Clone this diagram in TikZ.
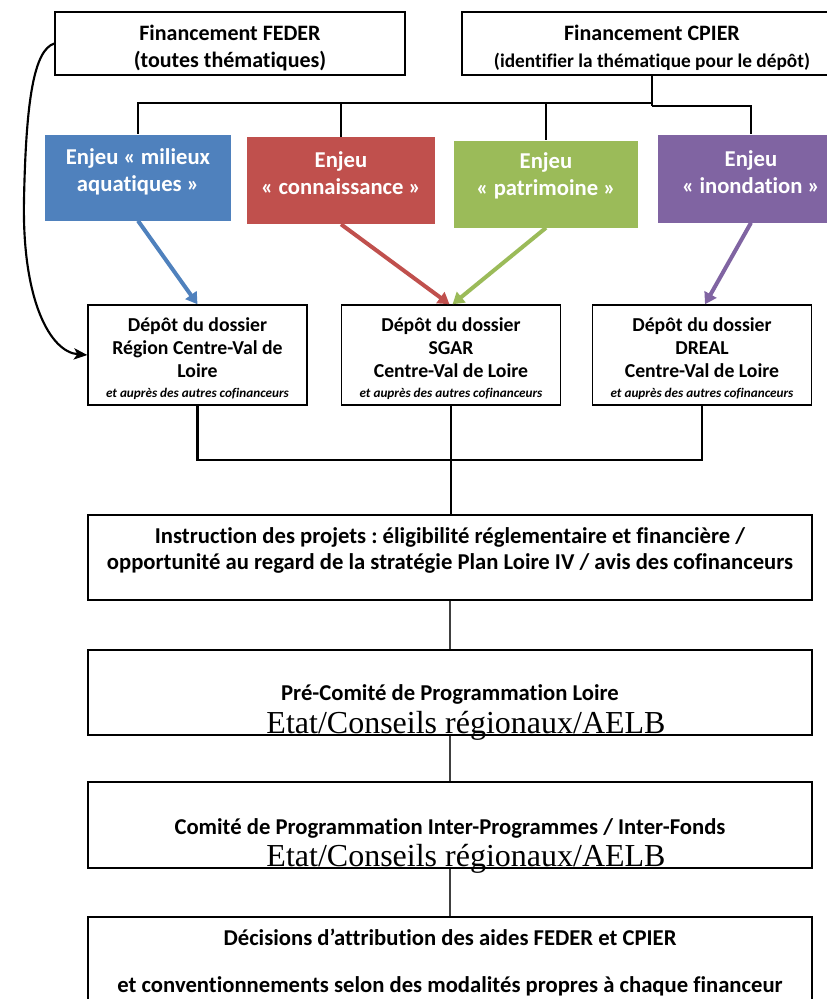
\documentclass[tikz,border=0pt]{standalone}
\usepackage{fontspec}
\setmainfont{Carlito}[Ligatures=NoCommon]
\newfontfamily\serifx{Liberation Serif}
\usetikzlibrary{arrows.meta,calc}
\definecolor{eblue}{HTML}{4F81BD}
\definecolor{ered}{HTML}{C0504D}
\definecolor{egreen}{HTML}{9BBB59}
\definecolor{epurple}{HTML}{8064A2}
\newcommand{\cofin}{{\bfseries\itshape\fontsize{9.9}{12}\selectfont et auprès des autres cofinanceurs}}
\frenchspacing
\begin{document}
\begin{tikzpicture}[x=0.75pt,y=-0.75pt,
  wbox/.style={draw=black, line width=1.1pt, fill=white, inner sep=0pt},
  wtext/.style={inner sep=0pt, align=center, font=\bfseries\fontsize{16.5}{20.25}\selectfont},
  ebox/.style={inner sep=0pt},
  etext/.style={inner sep=0pt, align=center, text=white, font=\bfseries\fontsize{17}{20.25}\selectfont},
  dbox/.style={draw=black, line width=1.1pt, fill=white, inner sep=0pt,
    minimum height=100*0.75pt, minimum width=219*0.75pt},
  dtext/.style={inner sep=0pt, align=center, font=\bfseries\fontsize{14.8}{17.2}\selectfont},
  bigbox/.style={draw=black, line width=1.1pt, inner sep=0pt, minimum width=724*0.75pt},
  btext/.style={inner sep=0pt, align=center, font=\bfseries\fontsize{17}{19.5}\selectfont},
  sertext/.style={inner sep=0pt, anchor=base, font=\serifx\fontsize{24}{28}\selectfont},
  thinline/.style={draw=black, line width=0.8pt},
  thickline/.style={draw=black, line width=2.2pt},
  midline/.style={draw=black!75, line width=1.5pt},
  carrow/.style={line width=3pt, -{Triangle[length=8.5pt,width=10pt]}},
]
\useasboundingbox (0,0) rectangle (827,999);

% top boxes
\node[wbox, minimum width=350*0.75pt, minimum height=63*0.75pt] (feder) at (230,43.5) {};
\node[wtext] (federt) at (230,48) {Financement FEDER\\(toutes thématiques)};
\node[wbox, minimum width=380*0.75pt, minimum height=63*0.75pt] (cpier) at (652,43.5) {};
\node[wtext] (cpiert) at (652,48)
  {Financement CPIER\\{\fontsize{14.5}{20.25}\selectfont(identifier la thématique pour le dépôt)}};

% enjeu boxes
\node[ebox, fill=eblue, minimum width=186*0.75pt, minimum height=86*0.75pt] (e1) at (138,177.5) {};
\node[etext] (e1t) at (138,172) {Enjeu « milieux\\aquatiques »};
\node[ebox, fill=ered, minimum width=188*0.75pt, minimum height=87*0.75pt] (e2) at (341,180.5) {};
\node[etext] (e2t) at (341,173) {Enjeu\\« connaissance »};
\node[ebox, fill=egreen, minimum width=184*0.75pt, minimum height=87*0.75pt] (e3) at (546,184) {};
\node[etext] (e3t) at (546,176) {Enjeu\\« patrimoine »};
\node[ebox, fill=epurple, minimum width=186*0.75pt, minimum height=88*0.75pt] (e4) at (751,178.5) {};
\node[etext] (e4t) at (751,172) {Enjeu\\« inondation »};

% top connectors
\coordinate (hub) at (652,103);
\coordinate (hubr) at (652,106);
\draw[thinline] (cpier.south) -- (hubr);
\draw[thinline] (hub) -| (e1.north);
\draw[thinline] (hub) -| (e2.north);
\draw[thinline] (hub) -| (e3.north);
\draw[thinline] (hubr) -| (e4.north);

% depot boxes
\node[dbox] (d1) at (197.5,355) {};
\node[dtext] (d1t) at (197.5,358.5)
  {Dépôt du dossier\\Région Centre-Val de\\Loire\\[-2.5pt]\cofin};
\node[dbox] (d2) at (451,355) {};
\node[dtext] (d2t) at (451,358.5)
  {Dépôt du dossier\\SGAR\\Centre-Val de Loire\\[-2.5pt]\cofin};
\node[dbox] (d3) at (702,355) {};
\node[dtext] (d3t) at (702,358.5)
  {Dépôt du dossier\\DREAL\\Centre-Val de Loire\\[-2.5pt]\cofin};

% coloured arrows
\draw[carrow, eblue] (e1.south) -- (d1.north);
\draw[carrow, ered] (e2.south) -- ($(d2.north)+(-1.5,0)$);
\draw[carrow, egreen] (e3.south) -- ($(d2.north)+(1.5,0)$);
\draw[carrow, epurple] (e4.south) -- ($(d3.north)+(3,0)$);

% curved FEDER arrow
\draw[line width=1.6pt, -{Stealth[length=10pt,width=8.5pt,inset=2.5pt]}]
  (feder.west) .. controls (34,50) and (26,100) .. (24,200)
  .. controls (22,300) and (50,352) .. (d1.west);

% big boxes
\node[bigbox, minimum height=85*0.75pt] (instr) at (450,557.5) {};
\node[btext] (instrt) at (450,550.5)
  {Instruction des projets : éligibilité réglementaire et financière /\\opportunité au regard de la stratégie Plan Loire IV / avis des cofinanceurs};

\node[bigbox, minimum height=85*0.75pt] (pre) at (450,692.5) {};
\node[btext] (pret) at (450,694) {Pré-Comité de Programmation Loire};
\node[sertext] (pres) at (466,733) {Etat/Conseils régionaux/AELB};

\node[bigbox, minimum height=86*0.75pt] (comite) at (450,825) {};
\node[btext] (comitet) at (450,828) {Comité de Programmation Inter-Programmes / Inter-Fonds};
\node[sertext] (comites) at (466,866) {Etat/Conseils régionaux/AELB};

\node[bigbox, minimum height=100*0.75pt] (decis) at (450,967) {};
\node[btext] (decist1) at (450,937) {Décisions d’attribution des aides FEDER et CPIER};
\node[btext] (decist2) at (450,986) {et conventionnements selon des modalités propres à chaque financeur};

% depot -> instruction
\coordinate (bar) at (451,460);
\draw[thickline] (d1.south) |- (bar) -| (d3.south);
\draw[thickline] (d2.south) -- (d2.south |- instr.north);

% vertical chain
\draw[midline] (instr.south) -- (pre.north);
\draw[midline] (pre.south) -- (comite.north);
\draw[midline] (comite.south) -- (decis.north);
\end{tikzpicture}
\end{document}
